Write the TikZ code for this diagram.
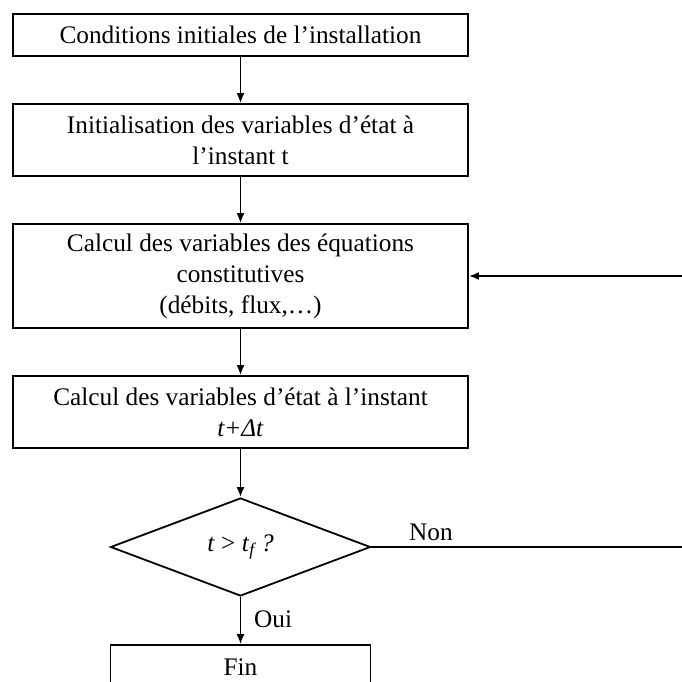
\documentclass[tikz,border=0pt]{standalone}
\usepackage{fontspec}
\setmainfont{Liberation Serif}
\usetikzlibrary{shapes.geometric,arrows.meta}

\begin{document}
\begin{tikzpicture}[x=1pt,y=-1pt,
	boite/.style = {draw, line width=1.8pt, minimum width=455pt, align=center, inner sep=0pt, font=\fontsize{25.3}{31}\selectfont},
	losange/.style = {draw, diamond, line width=1.8pt, minimum width=260pt, minimum height=98pt, inner sep=0pt, font=\fontsize{25.3}{31}\selectfont},
	fleche/.style = {line width=1.8pt, -{Latex[length=10pt,width=8pt]}},
	etiq/.style = {inner sep=0pt, font=\fontsize{25.3}{31}\selectfont}]
				\useasboundingbox (0,0) rectangle (682,682);
				\clip (0,0) rectangle (682,682);
				
				\node[boite, minimum height=42pt](cond) at (240.5,35) {Conditions initiales de l’installation};
				\node[boite, minimum height=72pt](init) at (240.5,140) {Initialisation des variables d’état à\\l’instant t};
				\node[boite, minimum height=104pt](calc) at (240.5,276) {Calcul des variables des équations\\constitutives\\(débits, flux,…)};
				\node[boite, minimum height=72pt](maj) at (240.5,412) {Calcul des variables d’état à l’instant\\\textit{t+Δt}};
				\node[losange](test) at (240.5,547) {\textit{t} > \textit{t}\textsubscript{\textit{f}}\,\textit{?}};
				\node[boite, minimum width=260pt, minimum height=44pt](fin) at (240.5,667) {Fin};
				\coordinate[](retour) at (700,547);
				
				\draw[fleche] (cond) -- (init);
				\draw[fleche] (init) -- (calc);
				\draw[fleche] (calc) -- (maj);
				\draw[fleche] (maj) -- (test);
				\draw[fleche] (test) -- (fin);
				\draw[fleche] (test.east) -- (retour) |- (calc.east);
				
				\node[etiq, anchor=base](non) at (431,540) {Non};
				\node[etiq, anchor=base west](oui) at (254,627) {Oui};
				\end{tikzpicture}
\end{document}
